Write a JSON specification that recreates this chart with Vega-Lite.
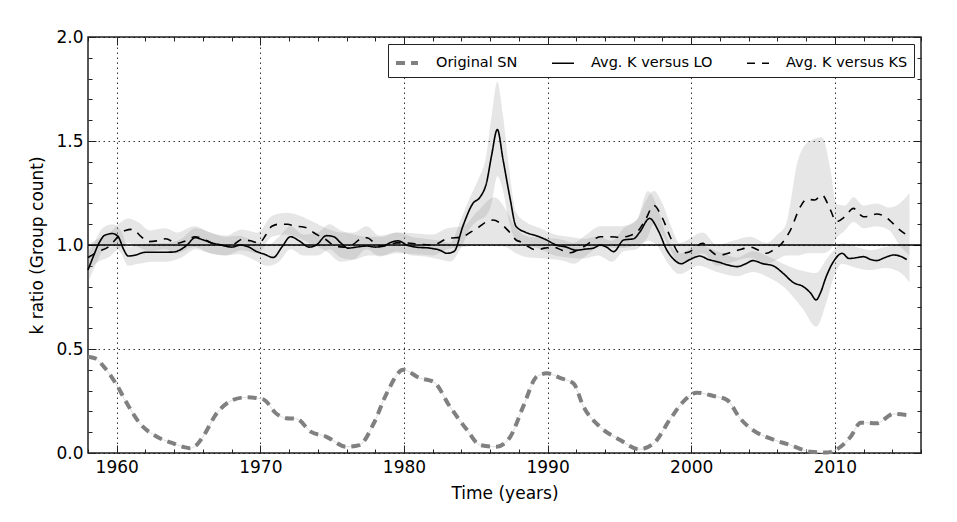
{
  "$schema": "https://vega.github.io/schema/vega-lite/v6.json",
  "width": 833,
  "height": 416,
  "autosize": "none",
  "padding": {"left": 88, "top": 37, "right": 36, "bottom": 69},
  "config": {
    "font": "DejaVu Sans",
    "view": {"stroke": "#222222", "strokeWidth": 1.5},
    "axis": {"domain": false, "labelColor": "black", "titleColor": "black", "tickColor": "#222222"}
  },
  "datasets": {
    "lines": [
      {"series": "Original SN", "year": 1958.0, "value": 0.463},
      {"series": "Original SN", "year": 1958.5, "value": 0.455},
      {"series": "Original SN", "year": 1959.1, "value": 0.415},
      {"series": "Original SN", "year": 1959.6, "value": 0.37},
      {"series": "Original SN", "year": 1960.0, "value": 0.327},
      {"series": "Original SN", "year": 1960.7, "value": 0.24},
      {"series": "Original SN", "year": 1961.6, "value": 0.143},
      {"series": "Original SN", "year": 1962.8, "value": 0.078},
      {"series": "Original SN", "year": 1963.9, "value": 0.047},
      {"series": "Original SN", "year": 1964.6, "value": 0.03},
      {"series": "Original SN", "year": 1965.1, "value": 0.023},
      {"series": "Original SN", "year": 1965.5, "value": 0.035},
      {"series": "Original SN", "year": 1966.0, "value": 0.078},
      {"series": "Original SN", "year": 1966.95, "value": 0.19},
      {"series": "Original SN", "year": 1968.1, "value": 0.255},
      {"series": "Original SN", "year": 1969.05, "value": 0.268},
      {"series": "Original SN", "year": 1970.2, "value": 0.258},
      {"series": "Original SN", "year": 1971.1, "value": 0.19},
      {"series": "Original SN", "year": 1971.8, "value": 0.167},
      {"series": "Original SN", "year": 1972.5, "value": 0.165},
      {"series": "Original SN", "year": 1973.5, "value": 0.103},
      {"series": "Original SN", "year": 1974.6, "value": 0.078},
      {"series": "Original SN", "year": 1976.0, "value": 0.03},
      {"series": "Original SN", "year": 1976.9, "value": 0.038},
      {"series": "Original SN", "year": 1977.9, "value": 0.143},
      {"series": "Original SN", "year": 1978.8, "value": 0.287},
      {"series": "Original SN", "year": 1979.95, "value": 0.4},
      {"series": "Original SN", "year": 1981.1, "value": 0.36},
      {"series": "Original SN", "year": 1982.05, "value": 0.343},
      {"series": "Original SN", "year": 1983.2, "value": 0.223},
      {"series": "Original SN", "year": 1984.4, "value": 0.11},
      {"series": "Original SN", "year": 1985.3, "value": 0.038},
      {"series": "Original SN", "year": 1986.45, "value": 0.03},
      {"series": "Original SN", "year": 1987.4, "value": 0.078},
      {"series": "Original SN", "year": 1988.3, "value": 0.223},
      {"series": "Original SN", "year": 1989.25, "value": 0.367},
      {"series": "Original SN", "year": 1989.95, "value": 0.383},
      {"series": "Original SN", "year": 1990.9, "value": 0.36},
      {"series": "Original SN", "year": 1991.8, "value": 0.335},
      {"series": "Original SN", "year": 1992.5, "value": 0.223},
      {"series": "Original SN", "year": 1993.65, "value": 0.126},
      {"series": "Original SN", "year": 1995.05, "value": 0.0625},
      {"series": "Original SN", "year": 1996.4, "value": 0.018},
      {"series": "Original SN", "year": 1997.4, "value": 0.047},
      {"series": "Original SN", "year": 1998.5, "value": 0.159},
      {"series": "Original SN", "year": 1999.45, "value": 0.247},
      {"series": "Original SN", "year": 2000.4, "value": 0.29},
      {"series": "Original SN", "year": 2001.55, "value": 0.274},
      {"series": "Original SN", "year": 2002.5, "value": 0.255},
      {"series": "Original SN", "year": 2003.4, "value": 0.167},
      {"series": "Original SN", "year": 2004.3, "value": 0.11},
      {"series": "Original SN", "year": 2005.5, "value": 0.07},
      {"series": "Original SN", "year": 2006.9, "value": 0.038},
      {"series": "Original SN", "year": 2008.3, "value": 0.006},
      {"series": "Original SN", "year": 2009.4, "value": 0.002},
      {"series": "Original SN", "year": 2010.4, "value": 0.03},
      {"series": "Original SN", "year": 2011.1, "value": 0.078},
      {"series": "Original SN", "year": 2011.8, "value": 0.146},
      {"series": "Original SN", "year": 2012.9, "value": 0.143},
      {"series": "Original SN", "year": 2014.1, "value": 0.1875},
      {"series": "Original SN", "year": 2015.0, "value": 0.183},

      {"series": "Avg. K versus LO", "year": 1958.0, "value": 0.88},
      {"series": "Avg. K versus LO", "year": 1958.4, "value": 0.95},
      {"series": "Avg. K versus LO", "year": 1958.7, "value": 1.0},
      {"series": "Avg. K versus LO", "year": 1959.2, "value": 1.048},
      {"series": "Avg. K versus LO", "year": 1959.7, "value": 1.055},
      {"series": "Avg. K versus LO", "year": 1960.1, "value": 1.04},
      {"series": "Avg. K versus LO", "year": 1960.5, "value": 0.976},
      {"series": "Avg. K versus LO", "year": 1960.8, "value": 0.947},
      {"series": "Avg. K versus LO", "year": 1961.2, "value": 0.95},
      {"series": "Avg. K versus LO", "year": 1962.0, "value": 0.965},
      {"series": "Avg. K versus LO", "year": 1963.0, "value": 0.965},
      {"series": "Avg. K versus LO", "year": 1963.9, "value": 0.966},
      {"series": "Avg. K versus LO", "year": 1964.5, "value": 0.98},
      {"series": "Avg. K versus LO", "year": 1964.9, "value": 1.0},
      {"series": "Avg. K versus LO", "year": 1965.45, "value": 1.035},
      {"series": "Avg. K versus LO", "year": 1966.0, "value": 1.025},
      {"series": "Avg. K versus LO", "year": 1966.6, "value": 1.01},
      {"series": "Avg. K versus LO", "year": 1967.3, "value": 1.0},
      {"series": "Avg. K versus LO", "year": 1968.0, "value": 0.99},
      {"series": "Avg. K versus LO", "year": 1968.6, "value": 1.0},
      {"series": "Avg. K versus LO", "year": 1969.2, "value": 0.99},
      {"series": "Avg. K versus LO", "year": 1969.7, "value": 0.97},
      {"series": "Avg. K versus LO", "year": 1970.3, "value": 0.955},
      {"series": "Avg. K versus LO", "year": 1970.9, "value": 0.94},
      {"series": "Avg. K versus LO", "year": 1971.5, "value": 0.99},
      {"series": "Avg. K versus LO", "year": 1972.1, "value": 1.04},
      {"series": "Avg. K versus LO", "year": 1972.7, "value": 1.02},
      {"series": "Avg. K versus LO", "year": 1973.4, "value": 0.99},
      {"series": "Avg. K versus LO", "year": 1973.9, "value": 1.0},
      {"series": "Avg. K versus LO", "year": 1974.6, "value": 1.045},
      {"series": "Avg. K versus LO", "year": 1975.1, "value": 1.04},
      {"series": "Avg. K versus LO", "year": 1975.6, "value": 1.01},
      {"series": "Avg. K versus LO", "year": 1976.1, "value": 0.985},
      {"series": "Avg. K versus LO", "year": 1976.7, "value": 0.99},
      {"series": "Avg. K versus LO", "year": 1977.4, "value": 0.995},
      {"series": "Avg. K versus LO", "year": 1978.0, "value": 0.99},
      {"series": "Avg. K versus LO", "year": 1978.6, "value": 0.995},
      {"series": "Avg. K versus LO", "year": 1979.0, "value": 1.01},
      {"series": "Avg. K versus LO", "year": 1979.6, "value": 1.02},
      {"series": "Avg. K versus LO", "year": 1980.2, "value": 1.0},
      {"series": "Avg. K versus LO", "year": 1980.8, "value": 0.99},
      {"series": "Avg. K versus LO", "year": 1981.8, "value": 0.985},
      {"series": "Avg. K versus LO", "year": 1982.5, "value": 0.975},
      {"series": "Avg. K versus LO", "year": 1983.0, "value": 0.96},
      {"series": "Avg. K versus LO", "year": 1983.5, "value": 0.97},
      {"series": "Avg. K versus LO", "year": 1984.1, "value": 1.09},
      {"series": "Avg. K versus LO", "year": 1984.8, "value": 1.2},
      {"series": "Avg. K versus LO", "year": 1985.3, "value": 1.23},
      {"series": "Avg. K versus LO", "year": 1985.75, "value": 1.3},
      {"series": "Avg. K versus LO", "year": 1986.1, "value": 1.43},
      {"series": "Avg. K versus LO", "year": 1986.5, "value": 1.555},
      {"series": "Avg. K versus LO", "year": 1986.9, "value": 1.41},
      {"series": "Avg. K versus LO", "year": 1987.4, "value": 1.22},
      {"series": "Avg. K versus LO", "year": 1987.8, "value": 1.09},
      {"series": "Avg. K versus LO", "year": 1988.5, "value": 1.06},
      {"series": "Avg. K versus LO", "year": 1989.2, "value": 1.045},
      {"series": "Avg. K versus LO", "year": 1989.9, "value": 1.025},
      {"series": "Avg. K versus LO", "year": 1990.6, "value": 1.0},
      {"series": "Avg. K versus LO", "year": 1991.3, "value": 0.99},
      {"series": "Avg. K versus LO", "year": 1992.0, "value": 0.975},
      {"series": "Avg. K versus LO", "year": 1992.6, "value": 0.98},
      {"series": "Avg. K versus LO", "year": 1993.2, "value": 0.985},
      {"series": "Avg. K versus LO", "year": 1993.65, "value": 1.0},
      {"series": "Avg. K versus LO", "year": 1994.1, "value": 0.99},
      {"series": "Avg. K versus LO", "year": 1994.6, "value": 0.968},
      {"series": "Avg. K versus LO", "year": 1995.3, "value": 1.024},
      {"series": "Avg. K versus LO", "year": 1996.0, "value": 1.03},
      {"series": "Avg. K versus LO", "year": 1996.4, "value": 1.06},
      {"series": "Avg. K versus LO", "year": 1997.1, "value": 1.128},
      {"series": "Avg. K versus LO", "year": 1997.7, "value": 1.07},
      {"series": "Avg. K versus LO", "year": 1998.3, "value": 0.976},
      {"series": "Avg. K versus LO", "year": 1998.8, "value": 0.93},
      {"series": "Avg. K versus LO", "year": 1999.3, "value": 0.91},
      {"series": "Avg. K versus LO", "year": 1999.9, "value": 0.93},
      {"series": "Avg. K versus LO", "year": 2000.6, "value": 0.947},
      {"series": "Avg. K versus LO", "year": 2001.2, "value": 0.93},
      {"series": "Avg. K versus LO", "year": 2001.8, "value": 0.92},
      {"series": "Avg. K versus LO", "year": 2002.5, "value": 0.905},
      {"series": "Avg. K versus LO", "year": 2003.2, "value": 0.896},
      {"series": "Avg. K versus LO", "year": 2003.8, "value": 0.91},
      {"series": "Avg. K versus LO", "year": 2004.3, "value": 0.925},
      {"series": "Avg. K versus LO", "year": 2005.0, "value": 0.91},
      {"series": "Avg. K versus LO", "year": 2005.7, "value": 0.9},
      {"series": "Avg. K versus LO", "year": 2006.4, "value": 0.864},
      {"series": "Avg. K versus LO", "year": 2007.1, "value": 0.82},
      {"series": "Avg. K versus LO", "year": 2007.8, "value": 0.8},
      {"series": "Avg. K versus LO", "year": 2008.3, "value": 0.77},
      {"series": "Avg. K versus LO", "year": 2008.7, "value": 0.736},
      {"series": "Avg. K versus LO", "year": 2009.0, "value": 0.77},
      {"series": "Avg. K versus LO", "year": 2009.4, "value": 0.848},
      {"series": "Avg. K versus LO", "year": 2010.0, "value": 0.93},
      {"series": "Avg. K versus LO", "year": 2010.5, "value": 0.96},
      {"series": "Avg. K versus LO", "year": 2011.0, "value": 0.935},
      {"series": "Avg. K versus LO", "year": 2011.6, "value": 0.94},
      {"series": "Avg. K versus LO", "year": 2012.0, "value": 0.944},
      {"series": "Avg. K versus LO", "year": 2012.5, "value": 0.93},
      {"series": "Avg. K versus LO", "year": 2012.9, "value": 0.925},
      {"series": "Avg. K versus LO", "year": 2013.5, "value": 0.94},
      {"series": "Avg. K versus LO", "year": 2014.1, "value": 0.952},
      {"series": "Avg. K versus LO", "year": 2014.6, "value": 0.945},
      {"series": "Avg. K versus LO", "year": 2015.0, "value": 0.93},

      {"series": "Avg. K versus KS", "year": 1958.0, "value": 0.94},
      {"series": "Avg. K versus KS", "year": 1958.7, "value": 0.968},
      {"series": "Avg. K versus KS", "year": 1959.4, "value": 0.99},
      {"series": "Avg. K versus KS", "year": 1960.1, "value": 1.04},
      {"series": "Avg. K versus KS", "year": 1960.6, "value": 1.07},
      {"series": "Avg. K versus KS", "year": 1961.1, "value": 1.075},
      {"series": "Avg. K versus KS", "year": 1961.7, "value": 1.04},
      {"series": "Avg. K versus KS", "year": 1962.2, "value": 1.016},
      {"series": "Avg. K versus KS", "year": 1962.8, "value": 1.02},
      {"series": "Avg. K versus KS", "year": 1963.4, "value": 1.03},
      {"series": "Avg. K versus KS", "year": 1964.2, "value": 1.008},
      {"series": "Avg. K versus KS", "year": 1964.8, "value": 1.02},
      {"series": "Avg. K versus KS", "year": 1965.45, "value": 1.04},
      {"series": "Avg. K versus KS", "year": 1966.0, "value": 1.03},
      {"series": "Avg. K versus KS", "year": 1966.6, "value": 1.01},
      {"series": "Avg. K versus KS", "year": 1967.2, "value": 1.0},
      {"series": "Avg. K versus KS", "year": 1967.8, "value": 0.995},
      {"series": "Avg. K versus KS", "year": 1968.3, "value": 1.01},
      {"series": "Avg. K versus KS", "year": 1968.7, "value": 1.027},
      {"series": "Avg. K versus KS", "year": 1969.3, "value": 1.02},
      {"series": "Avg. K versus KS", "year": 1969.9, "value": 1.01},
      {"series": "Avg. K versus KS", "year": 1970.4, "value": 1.05},
      {"series": "Avg. K versus KS", "year": 1970.8, "value": 1.09},
      {"series": "Avg. K versus KS", "year": 1971.3, "value": 1.1},
      {"series": "Avg. K versus KS", "year": 1971.9, "value": 1.1},
      {"series": "Avg. K versus KS", "year": 1972.4, "value": 1.09},
      {"series": "Avg. K versus KS", "year": 1972.9, "value": 1.088},
      {"series": "Avg. K versus KS", "year": 1973.3, "value": 1.08},
      {"series": "Avg. K versus KS", "year": 1973.7, "value": 1.06},
      {"series": "Avg. K versus KS", "year": 1974.2, "value": 1.04},
      {"series": "Avg. K versus KS", "year": 1974.6, "value": 1.024},
      {"series": "Avg. K versus KS", "year": 1975.2, "value": 0.995},
      {"series": "Avg. K versus KS", "year": 1975.8, "value": 0.99},
      {"series": "Avg. K versus KS", "year": 1976.4, "value": 1.0},
      {"series": "Avg. K versus KS", "year": 1977.0, "value": 1.03},
      {"series": "Avg. K versus KS", "year": 1977.4, "value": 1.035},
      {"series": "Avg. K versus KS", "year": 1978.3, "value": 0.995},
      {"series": "Avg. K versus KS", "year": 1978.9, "value": 1.0},
      {"series": "Avg. K versus KS", "year": 1979.5, "value": 1.01},
      {"series": "Avg. K versus KS", "year": 1980.2, "value": 1.01},
      {"series": "Avg. K versus KS", "year": 1980.9, "value": 1.005},
      {"series": "Avg. K versus KS", "year": 1982.0, "value": 1.0},
      {"series": "Avg. K versus KS", "year": 1983.0, "value": 1.03},
      {"series": "Avg. K versus KS", "year": 1984.1, "value": 1.04},
      {"series": "Avg. K versus KS", "year": 1984.6, "value": 1.06},
      {"series": "Avg. K versus KS", "year": 1985.1, "value": 1.08},
      {"series": "Avg. K versus KS", "year": 1985.7, "value": 1.11},
      {"series": "Avg. K versus KS", "year": 1986.2, "value": 1.12},
      {"series": "Avg. K versus KS", "year": 1986.7, "value": 1.105},
      {"series": "Avg. K versus KS", "year": 1987.1, "value": 1.08},
      {"series": "Avg. K versus KS", "year": 1987.5, "value": 1.05},
      {"series": "Avg. K versus KS", "year": 1987.8, "value": 1.024},
      {"series": "Avg. K versus KS", "year": 1988.1, "value": 1.016},
      {"series": "Avg. K versus KS", "year": 1988.7, "value": 0.99},
      {"series": "Avg. K versus KS", "year": 1989.2, "value": 0.976},
      {"series": "Avg. K versus KS", "year": 1989.8, "value": 0.985},
      {"series": "Avg. K versus KS", "year": 1990.4, "value": 0.99},
      {"series": "Avg. K versus KS", "year": 1991.0, "value": 0.975},
      {"series": "Avg. K versus KS", "year": 1991.6, "value": 0.963},
      {"series": "Avg. K versus KS", "year": 1992.2, "value": 0.98},
      {"series": "Avg. K versus KS", "year": 1992.7, "value": 1.0},
      {"series": "Avg. K versus KS", "year": 1993.2, "value": 1.025},
      {"series": "Avg. K versus KS", "year": 1993.65, "value": 1.04},
      {"series": "Avg. K versus KS", "year": 1994.3, "value": 1.04},
      {"series": "Avg. K versus KS", "year": 1995.1, "value": 1.037},
      {"series": "Avg. K versus KS", "year": 1995.7, "value": 1.045},
      {"series": "Avg. K versus KS", "year": 1996.2, "value": 1.06},
      {"series": "Avg. K versus KS", "year": 1996.8, "value": 1.12},
      {"series": "Avg. K versus KS", "year": 1997.4, "value": 1.19},
      {"series": "Avg. K versus KS", "year": 1997.95, "value": 1.136},
      {"series": "Avg. K versus KS", "year": 1998.6, "value": 1.03},
      {"series": "Avg. K versus KS", "year": 1999.2, "value": 0.96},
      {"series": "Avg. K versus KS", "year": 1999.9, "value": 0.968},
      {"series": "Avg. K versus KS", "year": 2000.3, "value": 0.99},
      {"series": "Avg. K versus KS", "year": 2000.8, "value": 1.008},
      {"series": "Avg. K versus KS", "year": 2001.3, "value": 0.975},
      {"series": "Avg. K versus KS", "year": 2001.8, "value": 0.952},
      {"series": "Avg. K versus KS", "year": 2002.3, "value": 0.955},
      {"series": "Avg. K versus KS", "year": 2002.9, "value": 0.968},
      {"series": "Avg. K versus KS", "year": 2003.5, "value": 0.98},
      {"series": "Avg. K versus KS", "year": 2004.1, "value": 0.99},
      {"series": "Avg. K versus KS", "year": 2004.7, "value": 0.975},
      {"series": "Avg. K versus KS", "year": 2005.25, "value": 0.96},
      {"series": "Avg. K versus KS", "year": 2005.7, "value": 0.975},
      {"series": "Avg. K versus KS", "year": 2006.2, "value": 1.0},
      {"series": "Avg. K versus KS", "year": 2006.9, "value": 1.07},
      {"series": "Avg. K versus KS", "year": 2007.6, "value": 1.184},
      {"series": "Avg. K versus KS", "year": 2008.05, "value": 1.22},
      {"series": "Avg. K versus KS", "year": 2008.6, "value": 1.216},
      {"series": "Avg. K versus KS", "year": 2009.1, "value": 1.24},
      {"series": "Avg. K versus KS", "year": 2009.7, "value": 1.168},
      {"series": "Avg. K versus KS", "year": 2010.1, "value": 1.112},
      {"series": "Avg. K versus KS", "year": 2010.7, "value": 1.136},
      {"series": "Avg. K versus KS", "year": 2011.3, "value": 1.176},
      {"series": "Avg. K versus KS", "year": 2011.7, "value": 1.15},
      {"series": "Avg. K versus KS", "year": 2012.0, "value": 1.136},
      {"series": "Avg. K versus KS", "year": 2012.5, "value": 1.14},
      {"series": "Avg. K versus KS", "year": 2012.9, "value": 1.149},
      {"series": "Avg. K versus KS", "year": 2013.4, "value": 1.14},
      {"series": "Avg. K versus KS", "year": 2013.8, "value": 1.12},
      {"series": "Avg. K versus KS", "year": 2014.4, "value": 1.08},
      {"series": "Avg. K versus KS", "year": 2015.0, "value": 1.048}
    ],
    "bands": [
      {"band": "LO", "year": 1958.0, "lo": 0.82, "hi": 0.96},
      {"band": "LO", "year": 1958.5, "lo": 0.9, "hi": 1.02},
      {"band": "LO", "year": 1959.0, "lo": 0.97, "hi": 1.08},
      {"band": "LO", "year": 1959.7, "lo": 1.0, "hi": 1.1},
      {"band": "LO", "year": 1960.3, "lo": 0.96, "hi": 1.07},
      {"band": "LO", "year": 1960.8, "lo": 0.9, "hi": 0.99},
      {"band": "LO", "year": 1961.5, "lo": 0.91, "hi": 1.0},
      {"band": "LO", "year": 1962.5, "lo": 0.92, "hi": 1.01},
      {"band": "LO", "year": 1963.5, "lo": 0.92, "hi": 1.01},
      {"band": "LO", "year": 1964.5, "lo": 0.94, "hi": 1.03},
      {"band": "LO", "year": 1965.5, "lo": 0.98, "hi": 1.08},
      {"band": "LO", "year": 1966.5, "lo": 0.96, "hi": 1.06},
      {"band": "LO", "year": 1967.5, "lo": 0.95, "hi": 1.04},
      {"band": "LO", "year": 1968.5, "lo": 0.955, "hi": 1.045},
      {"band": "LO", "year": 1969.5, "lo": 0.93, "hi": 1.02},
      {"band": "LO", "year": 1970.5, "lo": 0.9, "hi": 1.0},
      {"band": "LO", "year": 1971.3, "lo": 0.92, "hi": 1.04},
      {"band": "LO", "year": 1972.1, "lo": 0.98, "hi": 1.09},
      {"band": "LO", "year": 1973.0, "lo": 0.95, "hi": 1.05},
      {"band": "LO", "year": 1974.0, "lo": 0.95, "hi": 1.06},
      {"band": "LO", "year": 1974.8, "lo": 0.98, "hi": 1.1},
      {"band": "LO", "year": 1975.6, "lo": 0.94, "hi": 1.07},
      {"band": "LO", "year": 1976.5, "lo": 0.93, "hi": 1.05},
      {"band": "LO", "year": 1977.5, "lo": 0.95, "hi": 1.04},
      {"band": "LO", "year": 1978.5, "lo": 0.95, "hi": 1.04},
      {"band": "LO", "year": 1979.5, "lo": 0.97, "hi": 1.06},
      {"band": "LO", "year": 1980.5, "lo": 0.95, "hi": 1.04},
      {"band": "LO", "year": 1981.5, "lo": 0.945, "hi": 1.03},
      {"band": "LO", "year": 1982.5, "lo": 0.93, "hi": 1.02},
      {"band": "LO", "year": 1983.2, "lo": 0.92, "hi": 1.01},
      {"band": "LO", "year": 1984.0, "lo": 0.99, "hi": 1.13},
      {"band": "LO", "year": 1984.6, "lo": 1.08, "hi": 1.23},
      {"band": "LO", "year": 1985.2, "lo": 1.12, "hi": 1.32},
      {"band": "LO", "year": 1985.7, "lo": 1.14, "hi": 1.42},
      {"band": "LO", "year": 1986.1, "lo": 1.2, "hi": 1.62},
      {"band": "LO", "year": 1986.5, "lo": 1.33, "hi": 1.785},
      {"band": "LO", "year": 1986.9, "lo": 1.26, "hi": 1.62},
      {"band": "LO", "year": 1987.3, "lo": 1.12, "hi": 1.38},
      {"band": "LO", "year": 1987.8, "lo": 1.02, "hi": 1.16},
      {"band": "LO", "year": 1988.5, "lo": 1.0, "hi": 1.11},
      {"band": "LO", "year": 1989.5, "lo": 0.98, "hi": 1.08},
      {"band": "LO", "year": 1990.5, "lo": 0.95, "hi": 1.05},
      {"band": "LO", "year": 1991.5, "lo": 0.94, "hi": 1.04},
      {"band": "LO", "year": 1992.5, "lo": 0.935, "hi": 1.03},
      {"band": "LO", "year": 1993.5, "lo": 0.95, "hi": 1.04},
      {"band": "LO", "year": 1994.5, "lo": 0.92, "hi": 1.02},
      {"band": "LO", "year": 1995.3, "lo": 0.97, "hi": 1.08},
      {"band": "LO", "year": 1996.2, "lo": 0.98, "hi": 1.12},
      {"band": "LO", "year": 1997.0, "lo": 1.02, "hi": 1.26},
      {"band": "LO", "year": 1997.7, "lo": 0.99, "hi": 1.17},
      {"band": "LO", "year": 1998.3, "lo": 0.92, "hi": 1.04},
      {"band": "LO", "year": 1999.2, "lo": 0.86, "hi": 0.96},
      {"band": "LO", "year": 2000.5, "lo": 0.9, "hi": 1.0},
      {"band": "LO", "year": 2001.8, "lo": 0.87, "hi": 0.97},
      {"band": "LO", "year": 2003.2, "lo": 0.85, "hi": 0.94},
      {"band": "LO", "year": 2004.3, "lo": 0.87, "hi": 0.97},
      {"band": "LO", "year": 2005.5, "lo": 0.84, "hi": 0.94},
      {"band": "LO", "year": 2006.4, "lo": 0.8, "hi": 0.91},
      {"band": "LO", "year": 2007.1, "lo": 0.75, "hi": 0.89},
      {"band": "LO", "year": 2007.8, "lo": 0.69, "hi": 0.875},
      {"band": "LO", "year": 2008.7, "lo": 0.607, "hi": 0.865},
      {"band": "LO", "year": 2009.4, "lo": 0.72, "hi": 0.93},
      {"band": "LO", "year": 2010.0, "lo": 0.86, "hi": 0.98},
      {"band": "LO", "year": 2010.5, "lo": 0.91, "hi": 1.01},
      {"band": "LO", "year": 2011.5, "lo": 0.89, "hi": 0.99},
      {"band": "LO", "year": 2012.5, "lo": 0.88, "hi": 0.975},
      {"band": "LO", "year": 2013.5, "lo": 0.89, "hi": 0.99},
      {"band": "LO", "year": 2014.5, "lo": 0.87, "hi": 1.0},
      {"band": "LO", "year": 2015.2, "lo": 0.82, "hi": 1.0},

      {"band": "KS", "year": 1958.0, "lo": 0.88, "hi": 1.0},
      {"band": "KS", "year": 1958.7, "lo": 0.92, "hi": 1.03},
      {"band": "KS", "year": 1959.4, "lo": 0.94, "hi": 1.05},
      {"band": "KS", "year": 1960.1, "lo": 0.98, "hi": 1.1},
      {"band": "KS", "year": 1960.8, "lo": 1.01, "hi": 1.128},
      {"band": "KS", "year": 1961.5, "lo": 0.99, "hi": 1.11},
      {"band": "KS", "year": 1962.3, "lo": 0.97, "hi": 1.07},
      {"band": "KS", "year": 1963.4, "lo": 0.98, "hi": 1.08},
      {"band": "KS", "year": 1964.2, "lo": 0.96, "hi": 1.06},
      {"band": "KS", "year": 1965.4, "lo": 0.99, "hi": 1.09},
      {"band": "KS", "year": 1966.5, "lo": 0.96, "hi": 1.06},
      {"band": "KS", "year": 1967.6, "lo": 0.95, "hi": 1.045},
      {"band": "KS", "year": 1968.7, "lo": 0.975, "hi": 1.075},
      {"band": "KS", "year": 1969.8, "lo": 0.96, "hi": 1.06},
      {"band": "KS", "year": 1970.8, "lo": 1.04, "hi": 1.14},
      {"band": "KS", "year": 1971.8, "lo": 1.05, "hi": 1.155},
      {"band": "KS", "year": 1972.8, "lo": 1.03, "hi": 1.14},
      {"band": "KS", "year": 1973.7, "lo": 1.0, "hi": 1.11},
      {"band": "KS", "year": 1974.6, "lo": 0.97, "hi": 1.08},
      {"band": "KS", "year": 1975.6, "lo": 0.92, "hi": 1.06},
      {"band": "KS", "year": 1976.5, "lo": 0.93, "hi": 1.06},
      {"band": "KS", "year": 1977.4, "lo": 0.98, "hi": 1.09},
      {"band": "KS", "year": 1978.3, "lo": 0.945, "hi": 1.045},
      {"band": "KS", "year": 1979.5, "lo": 0.96, "hi": 1.06},
      {"band": "KS", "year": 1980.9, "lo": 0.955, "hi": 1.055},
      {"band": "KS", "year": 1982.0, "lo": 0.95, "hi": 1.05},
      {"band": "KS", "year": 1983.0, "lo": 0.98, "hi": 1.08},
      {"band": "KS", "year": 1984.1, "lo": 0.99, "hi": 1.09},
      {"band": "KS", "year": 1985.1, "lo": 1.0, "hi": 1.16},
      {"band": "KS", "year": 1986.3, "lo": 1.0, "hi": 1.23},
      {"band": "KS", "year": 1987.1, "lo": 0.99, "hi": 1.17},
      {"band": "KS", "year": 1987.8, "lo": 0.96, "hi": 1.08},
      {"band": "KS", "year": 1988.7, "lo": 0.94, "hi": 1.04},
      {"band": "KS", "year": 1989.8, "lo": 0.935, "hi": 1.035},
      {"band": "KS", "year": 1991.0, "lo": 0.925, "hi": 1.025},
      {"band": "KS", "year": 1991.8, "lo": 0.91, "hi": 1.01},
      {"band": "KS", "year": 1992.7, "lo": 0.95, "hi": 1.05},
      {"band": "KS", "year": 1993.65, "lo": 0.99, "hi": 1.09},
      {"band": "KS", "year": 1995.1, "lo": 0.985, "hi": 1.09},
      {"band": "KS", "year": 1996.2, "lo": 1.0, "hi": 1.12},
      {"band": "KS", "year": 1996.9, "lo": 1.03, "hi": 1.22},
      {"band": "KS", "year": 1997.4, "lo": 1.1, "hi": 1.26},
      {"band": "KS", "year": 1998.0, "lo": 1.05, "hi": 1.2},
      {"band": "KS", "year": 1998.6, "lo": 0.97, "hi": 1.09},
      {"band": "KS", "year": 1999.2, "lo": 0.91, "hi": 1.01},
      {"band": "KS", "year": 2000.8, "lo": 0.96, "hi": 1.06},
      {"band": "KS", "year": 2001.8, "lo": 0.9, "hi": 1.0},
      {"band": "KS", "year": 2002.9, "lo": 0.92, "hi": 1.02},
      {"band": "KS", "year": 2004.1, "lo": 0.94, "hi": 1.04},
      {"band": "KS", "year": 2005.25, "lo": 0.91, "hi": 1.01},
      {"band": "KS", "year": 2006.0, "lo": 0.93, "hi": 1.05},
      {"band": "KS", "year": 2006.6, "lo": 0.95, "hi": 1.1},
      {"band": "KS", "year": 2006.9, "lo": 0.95, "hi": 1.2},
      {"band": "KS", "year": 2007.4, "lo": 0.95, "hi": 1.4},
      {"band": "KS", "year": 2008.2, "lo": 0.96, "hi": 1.497},
      {"band": "KS", "year": 2009.1, "lo": 0.96, "hi": 1.518},
      {"band": "KS", "year": 2009.7, "lo": 0.98, "hi": 1.36},
      {"band": "KS", "year": 2010.1, "lo": 1.03, "hi": 1.2},
      {"band": "KS", "year": 2010.7, "lo": 1.07, "hi": 1.19},
      {"band": "KS", "year": 2011.3, "lo": 1.11, "hi": 1.23},
      {"band": "KS", "year": 2012.0, "lo": 1.08, "hi": 1.19},
      {"band": "KS", "year": 2012.9, "lo": 1.09, "hi": 1.2},
      {"band": "KS", "year": 2013.8, "lo": 1.07, "hi": 1.18},
      {"band": "KS", "year": 2014.5, "lo": 1.0, "hi": 1.2},
      {"band": "KS", "year": 2015.2, "lo": 0.95, "hi": 1.25}
    ],
    "reference": [
      {"ratio": 1.0}
    ]
  },
  "layer": [
    {
      "data": {"name": "bands"},
      "mark": {"type": "area", "interpolate": "monotone", "fill": "#808080", "opacity": 0.2},
      "encoding": {
        "x": {
          "field": "year", "type": "quantitative",
          "scale": {"domain": [1958, 2016], "nice": false, "zero": false},
          "axis": {
            "orient": "bottom",
            "title": "Time (years)", "titleFontSize": 17, "titleFontWeight": "normal", "titlePadding": 6,
            "values": [1958, 1960, 1962, 1964, 1966, 1968, 1970, 1972, 1974, 1976, 1978, 1980, 1982, 1984, 1986, 1988, 1990, 1992, 1994, 1996, 1998, 2000, 2002, 2004, 2006, 2008, 2010, 2012, 2014, 2016],
            "labelExpr": "datum.value % 10 == 0 ? format(datum.value, 'd') : ''",
            "labelFontSize": 17, "labelPadding": 14, "labelOverlap": false, "labelFlush": false,
            "tickSize": {"condition": {"test": "datum.value % 10 == 0", "value": -8}, "value": -4},
            "grid": true, "gridColor": "black", "gridDash": [1.5, 3.5], "gridWidth": 1,
            "gridOpacity": {"condition": {"test": "datum.value % 10 == 0", "value": 0.8}, "value": 0}
          }
        },
        "y": {
          "field": "lo", "type": "quantitative",
          "scale": {"domain": [0, 2], "nice": false},
          "axis": {
            "orient": "left",
            "title": "k ratio (Group count)", "titleFontSize": 17, "titleFontWeight": "normal", "titlePadding": 9,
            "values": [0, 0.1, 0.2, 0.3, 0.4, 0.5, 0.6, 0.7, 0.8, 0.9, 1.0, 1.1, 1.2, 1.3, 1.4, 1.5, 1.6, 1.7, 1.8, 1.9, 2.0],
            "labelExpr": "round(datum.value * 10) % 5 == 0 ? format(datum.value, '.1f') : ''",
            "labelFontSize": 17, "labelPadding": 13, "labelOverlap": false, "labelFlush": false,
            "tickSize": {"condition": {"test": "round(datum.value * 10) % 5 == 0", "value": -8}, "value": -4},
            "grid": true, "gridColor": "black", "gridDash": [1.5, 3.5], "gridWidth": 1,
            "gridOpacity": {"condition": {"test": "round(datum.value * 10) % 5 == 0", "value": 0.8}, "value": 0}
          }
        },
        "y2": {"field": "hi"},
        "detail": {"field": "band"}
      }
    },
    {
      "data": {"name": "reference"},
      "mark": {"type": "rule", "color": "black", "strokeWidth": 1.5},
      "encoding": {"y": {"field": "ratio", "type": "quantitative", "axis": null}}
    },
    {
      "data": {"name": "lines"},
      "transform": [{"filter": "datum.series == 'Original SN'"}],
      "mark": {"type": "line", "interpolate": "monotone", "color": "#dddddd", "strokeWidth": 1},
      "encoding": {
        "x": {
          "field": "year", "type": "quantitative",
          "axis": {
            "orient": "top", "title": null, "labels": false, "grid": false,
            "values": [1958, 1960, 1962, 1964, 1966, 1968, 1970, 1972, 1974, 1976, 1978, 1980, 1982, 1984, 1986, 1988, 1990, 1992, 1994, 1996, 1998, 2000, 2002, 2004, 2006, 2008, 2010, 2012, 2014, 2016],
            "tickSize": {"condition": {"test": "datum.value % 10 == 0", "value": -8}, "value": -4}
          }
        },
        "y": {
          "field": "value", "type": "quantitative",
          "axis": {
            "orient": "right", "title": null, "labels": false, "grid": false,
            "values": [0, 0.1, 0.2, 0.3, 0.4, 0.5, 0.6, 0.7, 0.8, 0.9, 1.0, 1.1, 1.2, 1.3, 1.4, 1.5, 1.6, 1.7, 1.8, 1.9, 2.0],
            "tickSize": {"condition": {"test": "round(datum.value * 10) % 5 == 0", "value": -8}, "value": -4}
          }
        }
      }
    },
    {
      "data": {"name": "lines"},
      "mark": {"type": "line", "interpolate": "monotone"},
      "encoding": {
        "x": {"field": "year", "type": "quantitative", "axis": null},
        "y": {"field": "value", "type": "quantitative", "axis": null},
        "color": {
          "field": "series", "type": "nominal",
          "scale": {"domain": ["Original SN", "Avg. K versus LO", "Avg. K versus KS"], "range": ["#808080", "black", "black"]},
          "legend": {
            "title": null, "orient": "top-right", "direction": "horizontal", "offset": 7,
            "strokeColor": "#222222", "fillColor": "white", "padding": 6, "cornerRadius": 0,
            "symbolType": "stroke", "symbolSize": 484, "labelFontSize": 14.5, "labelOffset": 16,
            "columnPadding": 30, "labelColor": "black"
          }
        },
        "strokeDash": {
          "field": "series", "type": "nominal",
          "scale": {"domain": ["Original SN", "Avg. K versus LO", "Avg. K versus KS"], "range": [[9, 6], [1, 0], [8, 7]]}
        },
        "strokeWidth": {
          "field": "series", "type": "nominal",
          "scale": {"type": "ordinal", "domain": ["Original SN", "Avg. K versus LO", "Avg. K versus KS"], "range": [4, 1.6, 1.6]}
        }
      }
    }
  ],
  "resolve": {"axis": {"x": "independent", "y": "independent"}}
}
